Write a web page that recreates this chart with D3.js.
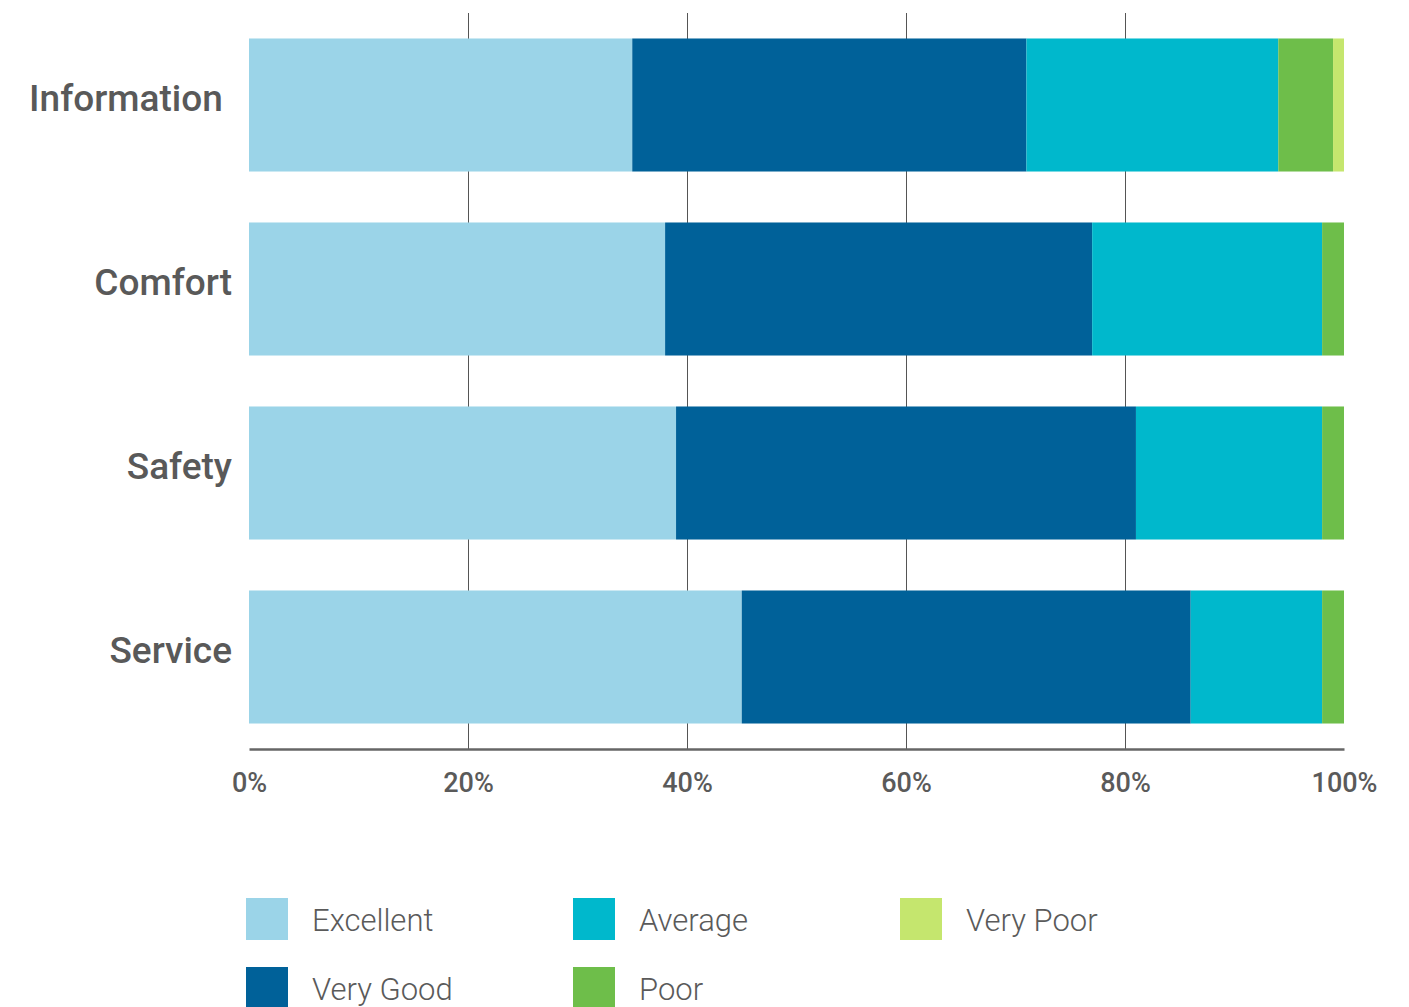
<!DOCTYPE html>
<html>
<head>
<meta charset="utf-8">
<script src="https://cdn.jsdelivr.net/npm/d3@7"></script>
<style>
  html, body { margin: 0; padding: 0; background: #fff; }
  svg { display: block; font-family: Roboto, "Noto Sans", sans-serif; }
</style>
</head>
<body>
<svg id="chart" width="1409" height="1007"></svg>
<script>
// Rating categories (bars, top to bottom)
const categories = ["Information ", "Comfort", "Safety", "Service"];

// Share of responses per rating, in percent
const excellent = [35, 38, 39, 45];
const veryGood  = [36, 39, 42, 41];
const average   = [23, 21, 17, 12];
const poor      = [5, 2, 2, 2];
const veryPoor  = [1, 0, 0, 0];

const seriesNames = ["Excellent", "Very Good", "Average", "Poor", "Very Poor"];
const seriesColors = ["#9bd4e8", "#006199", "#00b8cc", "#6ebe4a", "#c5e66e"];
const tickValues = [0, 20, 40, 60, 80, 100];

const rows = categories.map((c, i) => ({
  category: c,
  "Excellent": excellent[i],
  "Very Good": veryGood[i],
  "Average": average[i],
  "Poor": poor[i],
  "Very Poor": veryPoor[i]
}));

const svg = d3.select("#chart");

const x = d3.scaleLinear().domain([0, 100]).range([249, 1344]);
const y = d3.scaleBand()
  .domain(categories)
  .range([13, 749])
  .paddingInner(0.277)
  .paddingOuter(0.1385);
const color = d3.scaleOrdinal().domain(seriesNames).range(seriesColors);

// Vertical gridlines
svg.append("g")
  .selectAll("line")
  .data(tickValues.filter(t => t > 0 && t < 100))
  .join("line")
  .attr("x1", d => Math.round(x(d)) + 0.5)
  .attr("x2", d => Math.round(x(d)) + 0.5)
  .attr("y1", 13)
  .attr("y2", 749)
  .attr("stroke", "#555")
  .attr("stroke-width", 1);

// Stacked bars
const stacked = d3.stack().keys(seriesNames)(rows);
svg.append("g")
  .selectAll("g")
  .data(stacked)
  .join("g")
  .attr("fill", d => color(d.key))
  .selectAll("rect")
  .data(d => d)
  .join("rect")
  .attr("x", d => x(d[0]))
  .attr("width", d => x(d[1]) - x(d[0]))
  .attr("y", d => y(d.data.category))
  .attr("height", y.bandwidth());

// Bottom axis
const axis = svg.append("g")
  .attr("transform", "translate(0,749)")
  .call(d3.axisBottom(x).tickValues(tickValues).tickSize(0).tickPadding(0)
    .tickFormat(d => d + "%"));
axis.select(".domain").attr("stroke", "#666").attr("stroke-width", 2.5);
axis.selectAll("text")
  .attr("dy", null)
  .attr("y", 43)
  .attr("fill", "#5a5a5a")
  .attr("font-size", 27)
  .attr("font-weight", 500)
  .attr("font-family", "Roboto, sans-serif");

// Category labels
svg.append("g")
  .selectAll("text")
  .data(categories)
  .join("text")
  .attr("x", 232)
  .attr("y", d => y(d) + y.bandwidth() / 2 + 6)
  .attr("text-anchor", "end")
  .attr("fill", "#595959")
  .attr("font-size", 37)
  .attr("font-weight", 500)
  .style("white-space", "pre")
  .text(d => d);

// Legend: three columns, filled down each column
const legend = svg.append("g");
const items = legend.selectAll("g")
  .data(seriesNames)
  .join("g")
  .attr("transform", (d, i) => `translate(${246 + Math.floor(i / 2) * 327},${898 + (i % 2) * 69})`);
items.append("rect")
  .attr("width", 42)
  .attr("height", 42)
  .attr("fill", d => color(d));
items.append("text")
  .attr("x", 66)
  .attr("y", 33)
  .attr("fill", "#5a5a5a")
  .attr("font-size", 31)
  .attr("font-weight", 300)
  .text(d => d);
</script>
</body>
</html>
